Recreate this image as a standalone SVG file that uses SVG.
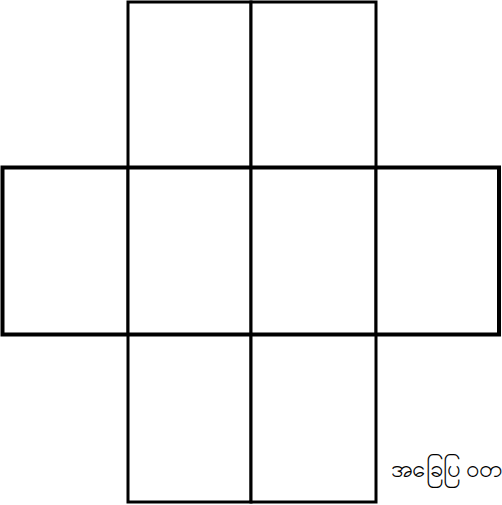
<svg xmlns="http://www.w3.org/2000/svg" width="502" height="505" viewBox="0 0 502 505">
<style>
.cell{fill:#fff;stroke:#000;stroke-width:3}
.lbl{font-family:"Noto Sans","DejaVu Sans",sans-serif;font-size:24px;fill:#000}
</style>
<rect width="502" height="505" fill="#fff"/>
<g id="top-left"><rect class="cell" x="128" y="2" width="123" height="165.5"/></g>
<g id="top-right"><rect class="cell" x="251" y="2" width="125" height="165.5"/></g>
<g id="mid-1"><rect class="cell" x="2.5" y="167.5" width="125.5" height="167"/></g>
<g id="mid-2"><rect class="cell" x="128" y="167.5" width="123" height="167"/></g>
<g id="mid-3"><rect class="cell" x="251" y="167.5" width="125" height="167"/></g>
<g id="mid-4"><rect class="cell" x="376" y="167.5" width="123" height="167"/></g>
<g id="bot-left"><rect class="cell" x="128" y="334.5" width="123" height="167.5"/></g>
<g id="bot-right"><rect class="cell" x="251" y="334.5" width="125" height="167.5"/></g>
<g id="outline" fill="none" stroke="#000" stroke-width="4"><path d="M2.5,167.5 H499 V334.5 H2.5 Z"/></g>
<g id="connectors"></g>
<text class="lbl" x="391" y="477">အခြေပြ ဝတ</text>
</svg>
